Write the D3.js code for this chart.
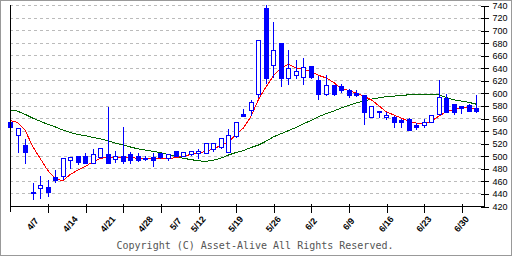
<!DOCTYPE html>
<html>
<head>
<meta charset="utf-8">
<script src="https://cdn.jsdelivr.net/npm/d3@7"></script>
<style>
    body { margin: 0; background: #fff; }
    svg { display: block; }
</style>
</head>
<body>
<div id="chart"></div>
<script>
// daily candles
const opens  = [553,533,517,442,448,451,466,468,494,500,500,489,498,503,495,500,503,500,496,498,504,497,508,500,503,505,505,510,514,506,531,566,573,599,736,644,680,623,629,625,643,621,598,613,611,605,600,597,561,571,561,561,557,558,549,549,554,567,592,582,579,581,576];
const highs  = [554,544,526,457,468,461,477,496,498,500,504,510,512,578,508,545,506,505,499,505,505,503,508,506,508,510,521,520,528,542,554,574,589,684,740,713,680,668,652,656,643,627,629,613,614,606,604,597,579,571,569,563,558,560,552,558,565,620,598,583,580,582,597];
const lows   = [544,506,489,431,432,436,459,463,480,487,488,489,498,489,490,488,488,492,493,484,497,494,499,499,501,497,504,508,513,506,530,564,565,593,616,626,611,615,623,614,624,591,597,597,602,593,595,551,561,561,558,545,546,541,542,545,554,567,570,567,568,571,569];
const closes = [545,544,506,440,453,443,461,496,498,490,489,503,512,489,500,492,493,494,496,493,498,503,500,506,508,508,520,520,528,533,554,564,585,684,624,668,623,639,635,642,625,598,613,598,605,596,597,569,579,569,565,553,554,541,546,554,565,593,570,570,576,572,572];

// moving averages (short = red, long = green)
const maShort = [556,553,541,515,496,477,464,460,470,477,483,490,496,497,498,498,497,496,496,495,495,495,497,499,502,504,507,511,516,522,533,544,562,589,609,627,639,646,640,638,634,628,624,617,607,604,600,595,589,580,570,565,560,555,552,551,555,563,570,574,577,577,573];
const maLong  = [573,571,566,560,555,550,546,541,537,534,532,529,527,524,520,517,514,511,509,507,505,502,499,496,494,492,491,493,496,501,505,508,513,517,523,530,535,540,545,551,556,562,567,571,576,580,584,587,590,592,594,595,596,597,598,598,598,597,593,589,587,585,582];

const dateLabels = ["4/7","4/14","4/21","4/28","5/7","5/12","5/19","5/26","6/2","6/9","6/16","6/23","6/30"];
const dateIdx    = [3,8,13,18,22,25,30,35,40,45,50,55,60];
const xTicks     = [5,10,15,20,25,30,35,40,45,50,55,60];
const yTicks     = [420,440,460,480,500,520,540,560,580,600,620,640,660,680,700,720,740];

class CandleChart {
    constructor(_parentElement) {
        this.parentElement = _parentElement;
        this.initVis();
    }

    initVis() {
        const vis = this;

        vis.width = 512;
        vis.height = 256;
        vis.left = 10;
        vis.right = 484;
        vis.top = 5;
        vis.bottom = 206;

        vis.svg = d3.select(vis.parentElement).append("svg")
            .attr("width", vis.width)
            .attr("height", vis.height);

        vis.svg.append("rect")
            .attr("x", 0.5).attr("y", 0.5)
            .attr("width", vis.width - 1).attr("height", vis.height - 1)
            .attr("fill", "#fff")
            .attr("stroke", "#999");

        vis.x = d3.scaleLinear().domain([0, 63]).range([vis.left, vis.right]);
        vis.y = d3.scaleLinear().domain([420, 740]).range([vis.bottom, vis.top]);

        vis.updateVis();
    }

    updateVis() {
        const vis = this;
        const px = i => Math.round(vis.x(i));
        const py = v => Math.round(vis.y(v));

        // dashed grid
        vis.svg.append("g").selectAll("line")
            .data(yTicks.slice(1))
            .enter().append("line")
            .attr("x1", vis.left).attr("x2", vis.right)
            .attr("y1", d => py(d) + 0.5).attr("y2", d => py(d) + 0.5)
            .attr("stroke", "#bbb")
            .attr("stroke-dasharray", "3,3");

        // moving averages
        const line = d3.line()
            .x((d, i) => vis.x(i))
            .y(d => vis.y(d));

        vis.svg.append("path")
            .datum(maLong)
            .attr("d", line)
            .attr("fill", "none")
            .attr("stroke", "#006600")
            .attr("stroke-width", 1)
            .attr("shape-rendering", "crispEdges");

        vis.svg.append("path")
            .datum(maShort)
            .attr("d", line)
            .attr("fill", "none")
            .attr("stroke", "#ff0000")
            .attr("stroke-width", 1)
            .attr("shape-rendering", "crispEdges");

        // candles
        const candles = vis.svg.append("g").selectAll("g")
            .data(opens.map((o, i) => ({ i: i, o: o, h: highs[i], l: lows[i], c: closes[i] })))
            .enter().append("g")
            .attr("shape-rendering", "crispEdges");

        candles.append("line")
            .attr("x1", d => px(d.i) + 0.5).attr("x2", d => px(d.i) + 0.5)
            .attr("y1", d => py(d.h)).attr("y2", d => py(d.l) + 1)
            .attr("stroke", "#0000ff");

        candles.filter(d => d.c < d.o || d.c === d.o).append("rect")
            .attr("x", d => px(d.i) - 2)
            .attr("y", d => py(d.o))
            .attr("width", 5)
            .attr("height", d => Math.max(2, py(d.c) - py(d.o) + 1))
            .attr("fill", "#0000ff");

        candles.filter(d => d.c > d.o).append("rect")
            .attr("x", d => px(d.i) - 1.5)
            .attr("y", d => py(d.c) + 0.5)
            .attr("width", 4)
            .attr("height", d => Math.max(1, py(d.o) - py(d.c)))
            .attr("fill", "#fff")
            .attr("stroke", "#0000ff");

        // left frame line
        vis.svg.append("line")
            .attr("x1", vis.left + 0.5).attr("x2", vis.left + 0.5)
            .attr("y1", vis.top).attr("y2", vis.bottom + 6)
            .attr("stroke", "#000");

        // x axis
        const xAxis = d3.axisBottom(vis.x)
            .tickValues(xTicks)
            .tickSize(6)
            .tickFormat("");

        const gx = vis.svg.append("g")
            .attr("transform", `translate(0.5,${vis.bottom + 0.5})`)
            .call(xAxis);
        gx.select(".domain").attr("d", `M${vis.left - 0.5},0H${vis.right}`);
        gx.selectAll(".tick line").attr("y1", -3);
        gx.attr("shape-rendering", "crispEdges");

        // y axis on the right
        const yAxis = d3.axisRight(vis.y)
            .tickValues(yTicks)
            .tickSize(4);

        const gy = vis.svg.append("g")
            .attr("transform", `translate(${vis.right + 0.5},0.5)`)
            .call(yAxis);
        gy.select(".domain").attr("d", `M0,${vis.top}V${vis.bottom}`);
        gy.selectAll(".tick line").attr("x1", -4);
        gy.selectAll(".tick text")
            .attr("x", 8)
            .attr("font-family", "Liberation Sans, Arial, sans-serif")
            .attr("font-size", 9)
            .attr("fill", "#000");
        gy.attr("shape-rendering", "crispEdges");

        // date labels
        vis.svg.append("g").selectAll("text")
            .data(dateLabels)
            .enter().append("text")
            .attr("transform", (d, k) => `translate(${vis.x(dateIdx[k])},224) rotate(-50)`)
            .attr("text-anchor", "middle")
            .attr("dy", "0.35em")
            .attr("font-family", "Liberation Sans, Arial, sans-serif")
            .attr("font-size", 9)
            .attr("font-weight", "bold")
            .text(d => d);

        vis.svg.append("text")
            .attr("x", 255).attr("y", 249)
            .attr("text-anchor", "middle")
            .attr("font-family", "DejaVu Sans Mono, monospace")
            .attr("font-size", 10)
            .attr("fill", "#555")
            .text("Copyright (C) Asset-Alive All Rights Reserved.");
    }
}

new CandleChart("#chart");
</script>
</body>
</html>
